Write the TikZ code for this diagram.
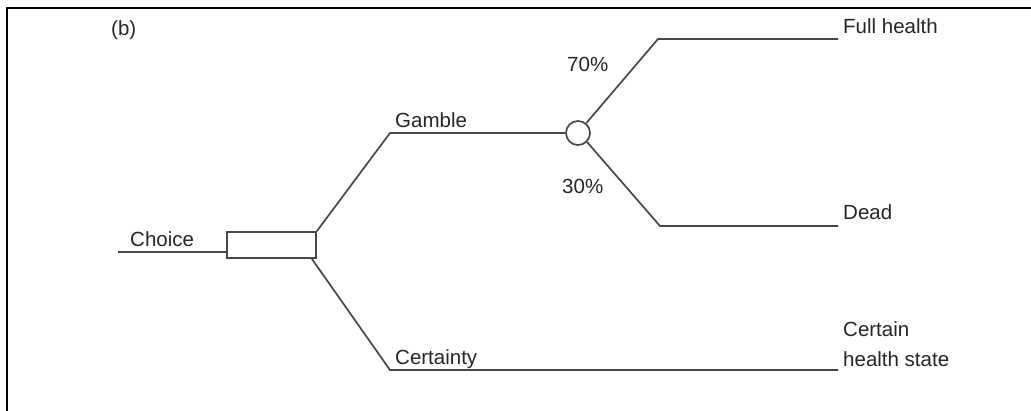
\documentclass[tikz,border=0pt]{standalone}
\usepackage{fontspec}
\setmainfont{Liberation Sans}
\begin{document}
\begin{tikzpicture}[x=1pt,y=-1pt,
  branch/.style={draw=black!72,line width=1.7pt},
  lbl/.style={anchor=base west,inner sep=0pt,text=black!85,font=\fontsize{20.5}{27}\selectfont},
  frame/.style={draw=black,line width=2pt}]
\useasboundingbox (0,0) rectangle (1031,411);
\draw[frame] (7,411) -- (7,8) -- (1031,8);
% nodes
\node[draw=black!72,line width=1.7pt,minimum width=89pt,minimum height=26pt,inner sep=0pt] (box) at (271.5,245) {};
\node[draw=black!72,line width=1.7pt,circle,minimum size=24pt,inner sep=0pt] (chance) at (578,133) {};
% coordinates
\coordinate (cin) at (118,252);
\coordinate (g1) at (390,133);
\coordinate (c1) at (390,370);
\coordinate (cend) at (838,370);
\coordinate (f1) at (658,39);
\coordinate (fend) at (838,39);
\coordinate (d1) at (660,226);
\coordinate (dend) at (838,226);
% connectors
\draw[branch] (cin) -- (cin -| box.west);
\draw[branch] (box.north east) -- (g1) -- (chance.west);
\draw[branch] ([xshift=-5pt]box.south east) -- (c1) -- (cend);
\draw[branch] (chance.50) -- (f1) -- (fend);
\draw[branch] (chance.-45) -- (d1) -- (dend);
% labels
\node[lbl] (lb) at (111,36) {(b)};
\node[lbl] (lchoice) at (130,247) {Choice};
\node[lbl] (lgamble) at (395,128) {Gamble};
\node[lbl] (lcert) at (395,365) {Certainty};
\node[lbl] (l70) at (567,72) {70\%};
\node[lbl] (l30) at (562,194) {30\%};
\node[lbl] (lfull) at (843,34) {Full health};
\node[lbl] (ldead) at (843,220) {Dead};
\node[lbl,align=left] (lstate) at (843,367) {Certain\\[3pt]health state};
\end{tikzpicture}
\end{document}
